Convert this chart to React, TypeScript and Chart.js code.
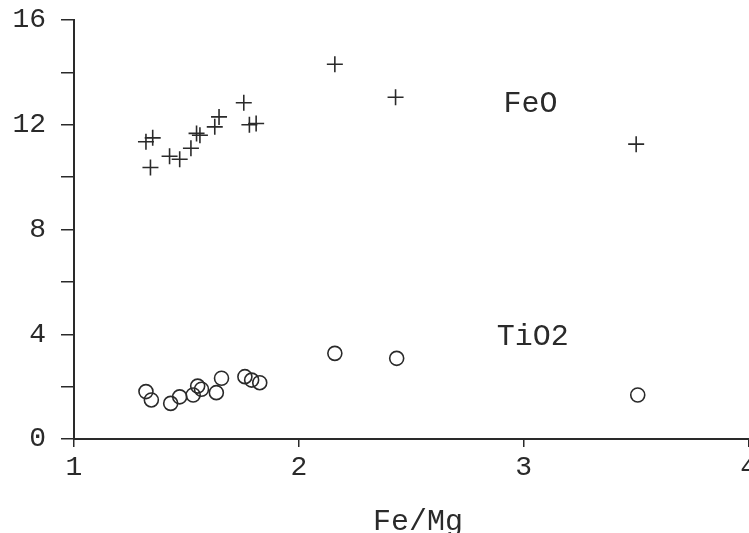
import React, { useEffect, useRef } from "react";
import { Chart, registerables } from "chart.js";

Chart.register(...registerables);

const feoX = [1.32, 1.35, 1.34, 1.425, 1.47, 1.52, 1.545, 1.56, 1.626, 1.645, 1.755, 1.78, 1.81, 2.16, 2.43, 3.5];
const feoY = [11.35, 11.5, 10.37, 10.8, 10.68, 11.1, 11.67, 11.6, 11.92, 12.3, 12.84, 12.0, 12.05, 14.31, 13.05, 11.26];

const tioX = [1.32, 1.344, 1.43, 1.47, 1.53, 1.55, 1.567, 1.633, 1.656, 1.76, 1.79, 1.826, 2.16, 2.435, 3.507];
const tioY = [1.81, 1.49, 1.36, 1.61, 1.68, 2.02, 1.9, 1.77, 2.32, 2.38, 2.25, 2.15, 3.27, 3.08, 1.68];

const seriesLabels = ["FeO", "TiO2"];
const labelX = [3.03, 3.04];
const labelY = [12.49, 3.59];

const xTitle = "Fe/Mg";
const xTitleAt = 2.53;
const INK = "#2a2a2a";
const FONT = "'Liberation Mono', 'DejaVu Sans Mono', monospace";

export default function App() {
  const ref = useRef<HTMLCanvasElement | null>(null);

  useEffect(() => {
    if (!ref.current) return;
    const labelPlugin = {
      id: "seriesText",
      afterDatasetsDraw(chart: any) {
        const { ctx, scales } = chart;
        ctx.save();
        ctx.fillStyle = INK;
        ctx.font = `30px ${FONT}`;
        ctx.textAlign = "center";
        ctx.textBaseline = "alphabetic";
        seriesLabels.forEach((t, i) => {
          ctx.fillText(t, scales.x.getPixelForValue(labelX[i]), scales.y.getPixelForValue(labelY[i]));
        });
        ctx.fillText(xTitle, scales.x.getPixelForValue(xTitleAt), 530);
        ctx.restore();
      },
    };
    const chart = new Chart(ref.current, {
      type: "scatter",
      data: {
        datasets: [
          {
            label: "FeO",
            data: feoX.map((x, i) => ({ x, y: feoY[i] })),
            pointStyle: "cross",
            pointRadius: 8,
            borderColor: INK,
            backgroundColor: "transparent",
            borderWidth: 1.6,
          },
          {
            label: "TiO2",
            data: tioX.map((x, i) => ({ x, y: tioY[i] })),
            pointStyle: "circle",
            pointRadius: 7,
            borderColor: INK,
            backgroundColor: "transparent",
            borderWidth: 1.6,
          },
        ],
      },
      options: {
        responsive: false,
        animation: false,
        layout: { padding: { top: 20, right: 1, left: 0, bottom: 0 } },
        plugins: { legend: { display: false }, tooltip: { enabled: false } },
        scales: {
          x: {
            type: "linear",
            min: 1,
            max: 4,
            afterFit(s: any) {
              s.height = 94;
            },
            ticks: {
              stepSize: 1,
              color: INK,
              font: { family: FONT, size: 28 },
              padding: 4,
              maxRotation: 0,
            },
            grid: { drawOnChartArea: false, tickLength: 8, color: INK, tickColor: INK, lineWidth: 1.5 },
            border: { display: true, color: INK, width: 2 },
          },
          y: {
            type: "linear",
            min: 0,
            max: 16,
            afterFit(s: any) {
              s.width = 74;
              s.paddingTop = 0;
              s.paddingBottom = 0;
            },
            ticks: {
              stepSize: 2,
              color: INK,
              font: { family: FONT, size: 28 },
              padding: 15,
              callback: (v: any) => (Number(v) % 4 === 0 ? String(v) : ""),
            },
            grid: { drawOnChartArea: false, tickLength: 13, color: INK, tickColor: INK, lineWidth: 1.5 },
            border: { display: true, color: INK, width: 2 },
          },
        },
      },
      plugins: [labelPlugin],
    });
    return () => chart.destroy();
  }, []);

  return (
    <div style={{ position: "fixed", left: 0, top: 0, width: 749, height: 533, overflow: "hidden", background: "#fff" }}>
      <canvas ref={ref} width={761} height={533} style={{ display: "block" }} />
    </div>
  );
}
